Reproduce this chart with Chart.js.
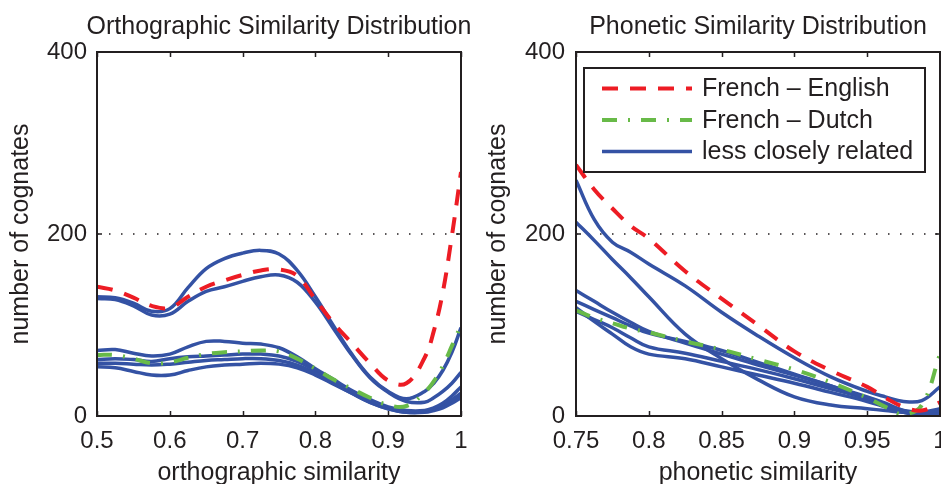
<!DOCTYPE html>
<html>
<head>
<meta charset="utf-8">
<script src="https://cdn.jsdelivr.net/npm/chart.js@4.4.0/dist/chart.umd.min.js"></script>
<style>
  html, body { margin:0; padding:0; background:#fff; }
  #wrap { position:relative; width:941px; height:484px; overflow:hidden; }
  .box { position:absolute; top:0; height:484px; }
  #boxOrth { left:0; width:470px; }
  #boxPhon { left:470px; width:471px; }
</style>
</head>
<body>
<div id="wrap">
  <div class="box" id="boxOrth"><canvas id="orth" width="470" height="484" style="width:470px;height:484px"></canvas></div>
  <div class="box" id="boxPhon"><canvas id="phon" width="471" height="484" style="width:471px;height:484px"></canvas></div>
</div>
<script>
// orthographic panel
var orthX    = [0.5,0.525,0.55,0.575,0.6,0.625,0.65,0.675,0.7,0.725,0.75,0.775,0.8,0.825,0.85,0.875,0.9,0.925,0.95,0.9625,0.975,0.9875,1];
var orthFrEn = [142,138,130,121,119,131,142,149,155,160,161,154,128,102,80,58,39,36,64,93,136,198,268];
var orthFrDu = [67,67,63,58,59,64,68,70,71,72,71,63,52,40,30,20,12,11,26,38,55,77,100];
var orthA    = [131,130,124,115,118,141,162,173,179,182,178,160,131,99,68,43,27,19,27,36,50,70,97];
var orthB    = [129,128,121,111,112,126,137,142,148,153,155,147,125,96,67,42,26,16,15,20,27,36,48];
var orthC    = [72,73,69,66,68,76,82,82,80,79,75,65,52,40,28,18,10,6,6,9,14,22,32];
var orthD    = [62,63,62,60,63,65,66,67,68,68,66,60,50,38,27,17,9,5,5,8,12,18,25];
var orthE    = [58,58,57,56,57,59,61,62,63,63,61,56,47,36,25,15,8,4,4,6,9,14,20];
var orthF    = [54,53,49,45,45,50,54,56,57,58,57,53,45,35,25,15,8,4,5,8,12,17,22];

// phonetic panel
var phonX    = [0.75,0.7625,0.775,0.7875,0.8,0.825,0.85,0.875,0.9,0.925,0.95,0.9625,0.975,0.9875,1];
var phonFrEn = [276,249,228,209,195,159,129,100,71,50,32,20,10,6,15];
var phonFrDu = [116,108,102,96,92,82,73,62,51,37,20,10,2,12,68];
var phonA    = [259,216,191,180,167,143,114,88,64,43,27,21,16,17,32];
var phonB    = [213,193,172,152,131,90,63,40,21,12,8,6,4,3,2];
var phonC    = [138,126,114,103,93,80,68,56,45,33,20,12,4,1,2];
var phonD    = [126,117,108,99,91,82,72,59,46,33,21,14,6,1,0];
var phonE    = [119,104,90,76,68,63,54,45,36,26,16,10,4,4,8];
var phonF    = [115,106,97,86,76,69,60,51,41,30,19,12,6,4,5];

var legendLabels = ['French \u2013 English', 'French \u2013 Dutch', 'less closely related'];

var red = 'rgb(237,28,36)';
var green = 'rgb(104,186,72)';
var blue = 'rgb(52,82,164)';
var ink = '#231f20';
var fontName = '"Liberation Sans", Arial, sans-serif';

function pts(xs, ys) {
  return xs.map(function (x, i) { return {x: x, y: ys[i]}; });
}

function makeSets(xs, frEn, frDu, others) {
  var sets = [
    {label: legendLabels[0], data: pts(xs, frEn), borderColor: red, borderWidth: 4, borderDash: [16, 12]},
    {label: legendLabels[1], data: pts(xs, frDu), borderColor: green, borderWidth: 4, borderDash: [15, 11, 2, 11]}
  ];
  others.forEach(function (o) {
    sets.push({label: legendLabels[2], data: pts(xs, o), borderColor: blue, borderWidth: 3.5});
  });
  return sets;
}

// box, dotted grid at inner y ticks, inward tick marks
var framePlugin = {
  id: 'frame',
  beforeDatasetsDraw: function (chart) {
    var ctx = chart.ctx, a = chart.chartArea, ys = chart.scales.y;
    ctx.save();
    ctx.strokeStyle = ink;
    ctx.lineWidth = 1.5;
    ctx.setLineDash([1.5, 10.5]);
    ys.ticks.forEach(function (t) {
      if (t.value > ys.min && t.value < ys.max) {
        var y = Math.round(ys.getPixelForValue(t.value));
        ctx.beginPath(); ctx.moveTo(a.left, y); ctx.lineTo(a.right, y); ctx.stroke();
      }
    });
    ctx.restore();
  },
  afterDatasetsDraw: function (chart) {
    var ctx = chart.ctx, a = chart.chartArea, xs = chart.scales.x, ys = chart.scales.y;
    ctx.save();
    ctx.strokeStyle = ink;
    ctx.lineWidth = 1.5;
    xs.ticks.forEach(function (t) {
      var x = Math.round(xs.getPixelForValue(t.value)) + 0.5;
      ctx.beginPath();
      ctx.moveTo(x, a.top); ctx.lineTo(x, a.top + 5);
      ctx.moveTo(x, a.bottom); ctx.lineTo(x, a.bottom - 5);
      ctx.stroke();
    });
    ys.ticks.forEach(function (t) {
      var y = Math.round(ys.getPixelForValue(t.value));
      ctx.beginPath();
      ctx.moveTo(a.left, y); ctx.lineTo(a.left + 5, y);
      ctx.moveTo(a.right, y); ctx.lineTo(a.right - 5, y);
      ctx.stroke();
    });
    ctx.lineWidth = 2;
    ctx.strokeRect(a.left, a.top, a.right - a.left, a.bottom - a.top);
    ctx.restore();
  }
};

var panelTitle = {
  id: 'panelTitle',
  afterDraw: function (chart, args, opts) {
    var ctx = chart.ctx, a = chart.chartArea;
    ctx.save();
    ctx.fillStyle = ink;
    ctx.font = '25px ' + fontName;
    ctx.textAlign = 'center';
    ctx.textBaseline = 'alphabetic';
    ctx.fillText(opts.text, (a.left + a.right) / 2, 34);
    ctx.restore();
  }
};

var insideLegend = {
  id: 'insideLegend',
  afterDraw: function (chart, args, opts) {
    if (!opts.show) return;
    var ctx = chart.ctx, a = chart.chartArea;
    var bx = a.left + 8, by = a.top + 16, bw = 341, bh = 104;
    ctx.save();
    ctx.fillStyle = '#fff';
    ctx.fillRect(bx, by, bw, bh);
    ctx.lineWidth = 2;
    ctx.strokeStyle = ink;
    ctx.strokeRect(bx, by, bw, bh);
    legendLabels.forEach(function (txt, i) {
      var ds = chart.data.datasets[i];
      var y = by + 20.5 + i * 31.5;
      ctx.beginPath();
      ctx.setLineDash(ds.borderDash || []);
      ctx.lineWidth = ds.borderWidth;
      ctx.strokeStyle = ds.borderColor;
      ctx.moveTo(bx + 18, y); ctx.lineTo(bx + 108, y);
      ctx.stroke();
      ctx.setLineDash([]);
      ctx.fillStyle = ink;
      ctx.font = '25px ' + fontName;
      ctx.textAlign = 'left';
      ctx.textBaseline = 'middle';
      ctx.fillText(txt, bx + 118, y + 1);
    });
    ctx.restore();
  }
};

function makeChart(id, cfg) {
  var ctx = document.getElementById(id).getContext('2d');
  return new Chart(ctx, {
    type: 'line',
    data: {datasets: cfg.sets},
    plugins: [framePlugin, panelTitle, insideLegend],
    options: {
      responsive: false,
      animation: false,
      devicePixelRatio: 1,
      layout: {padding: {top: 52, right: cfg.padRight, left: 0, bottom: 0}},
      elements: {
        point: {radius: 0},
        line: {tension: 0.4, borderCapStyle: 'butt', fill: false}
      },
      plugins: {
        legend: {display: false},
        tooltip: {enabled: false},
        title: {display: false},
        panelTitle: {text: cfg.title},
        insideLegend: {show: cfg.legend}
      },
      scales: {
        x: {
          type: 'linear',
          min: cfg.xMin, max: 1,
          grid: {display: false, drawTicks: false},
          border: {display: false},
          ticks: {
            stepSize: cfg.xStep,
            padding: 11,
            color: ink,
            font: {family: fontName, size: 24},
            maxRotation: 0,
            callback: function (v) { return String(Number(v.toFixed(2))); }
          },
          title: {display: true, text: cfg.xTitle, color: ink,
                  font: {family: fontName, size: 25, lineHeight: 0.9}, padding: {top: 0, bottom: 0}},
          afterFit: function (s) { s.height = 68; s.paddingLeft = 0; s.paddingRight = 0; }
        },
        y: {
          min: 0, max: 400,
          grid: {display: false, drawTicks: false},
          border: {display: false},
          ticks: {stepSize: 200, padding: cfg.yPad, color: ink, font: {family: fontName, size: 24}},
          title: {display: true, text: 'number of cognates', color: ink,
                  font: {family: fontName, size: 25}, padding: {top: cfg.yTitlePad, bottom: 0}},
          afterFit: function (s) { s.width = cfg.yWidth; s.paddingTop = 0; s.paddingBottom = 0; }
        }
      }
    }
  });
}

makeChart('orth', {
  sets: makeSets(orthX, orthFrEn, orthFrDu, [orthA, orthB, orthC, orthD, orthE, orthF]),
  title: 'Orthographic Similarity Distribution',
  xTitle: 'orthographic similarity',
  xMin: 0.5, xStep: 0.1,
  yWidth: 97, yPad: 10, yTitlePad: 6, padRight: 9, legend: false
});

makeChart('phon', {
  sets: makeSets(phonX, phonFrEn, phonFrDu, [phonA, phonB, phonC, phonD, phonE, phonF]),
  title: 'Phonetic Similarity Distribution',
  xTitle: 'phonetic similarity',
  xMin: 0.75, xStep: 0.05,
  yWidth: 106, yPad: 11, yTitlePad: 13, padRight: 1, legend: true
});
</script>
</body>
</html>
